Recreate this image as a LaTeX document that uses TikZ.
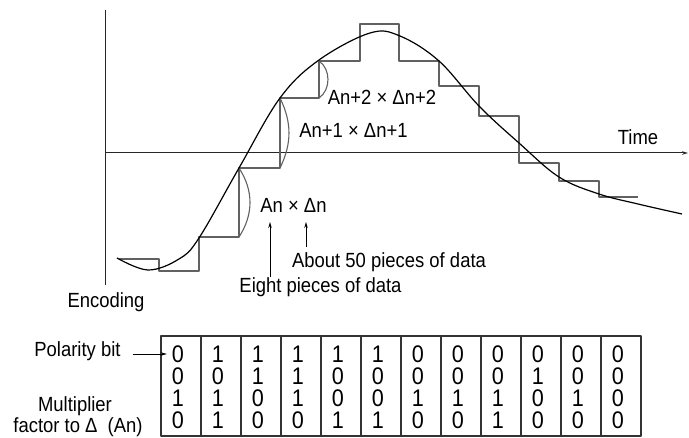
\documentclass[tikz,border=0pt]{standalone}
\usepackage{fontspec}
\setmainfont[FakeStretch=0.9]{Liberation Sans}
\usetikzlibrary{arrows.meta}

\begin{document}
\begin{tikzpicture}[x=1pt,y=-1pt,>={Stealth[length=6pt,width=3.5pt]},line join=round,
  lbl/.style={anchor=base,inner sep=0pt,font=\fontsize{20.5}{24}\selectfont},
  bit/.style={inner sep=0pt,font=\fontsize{24}{26}\selectfont},
  axis/.style={line width=1pt,black!85},
  stair/.style={line width=1.1pt,black!62},
  wave/.style={line width=1.2pt,black},
  grid/.style={line width=1.1pt,black!80}]
  \useasboundingbox (0,0) rectangle (689,438);
  % axes
  \coordinate (Top) at (105,10);
  \coordinate (Bot) at (105,285);
  \coordinate (O) at (105,153);
  \coordinate (T) at (688,153);
  \draw[axis] (Top) -- (Bot);
  \draw[axis,->] (O) -- (T);
  \node[lbl] (time) at (638,145) {Time};
  % step corners carrying the brackets
  \coordinate (S1) at (239,168);
  \coordinate (S1b) at (239,237);
  \coordinate (S2) at (280,98);
  \coordinate (S2b) at (280,168);
  \coordinate (S3) at (319,61);
  \coordinate (S3b) at (319,98);
  % staircase
  \draw[stair] (119,259) -- (159,259) -- (159,271) -- (199,271) -- (199,237)
    -- (S1b) -- (S1) -- (S2b) -- (S2) -- (S3b) -- (S3) -- (360,61) -- (360,24)
    -- (399,24) -- (399,61) -- (439,61) -- (439,86) -- (479,86) -- (479,116)
    -- (519,116) -- (519,163) -- (559,163) -- (559,181) -- (599,181)
    -- (599,197) -- (638,197);
  \draw[stair] (S1) to[bend left=33] (S1b);
  \draw[stair] (S2) to[bend left=26] (S2b);
  \draw[stair] (S3) to[bend left=56] (S3b);
  % signal
  \draw[wave] plot[smooth,tension=0.6] coordinates {(117,258) (148,270) (179,259)
    (199,238) (239,168) (280,98) (319,60) (370,33) (400,36) (439,61) (479,106)
    (519,143) (559,177) (599,194) (638,204) (682,214)};
  % labels
  \node[lbl] (a2) at (382,105) {An+2 × Δn+2};
  \node[lbl] (a1) at (353.5,138) {An+1 × Δn+1};
  \node[lbl] (a0) at (293.5,213) {An × Δn};
  \node[lbl] (fifty) at (389,268) {About 50 pieces of data};
  \node[lbl] (eight) at (320.5,293) {Eight pieces of data};
  \node[lbl] (enc) at (106,308) {Encoding};
  \coordinate (Atip) at (270,222);
  \coordinate (Dtip) at (306,222);
  \draw[->,line width=0.8pt] (Atip |- 0,277) -- (Atip);
  \draw[->,line width=0.8pt] (Dtip |- 0,247) -- (Dtip);
  % code table
  \draw[grid] (161,336) rectangle (641,436);
  \foreach \i in {1,...,11}
    \draw[grid] (161+40*\i,336) -- (161+40*\i,436);
  \foreach \col [count=\c from 0] in {{0,0,1,0},{1,0,1,1},{1,1,0,0},{1,1,1,0},
      {1,0,0,1},{1,0,0,1},{0,0,1,0},{0,0,1,0},{0,0,1,1},{0,1,0,0},{0,0,1,0},{0,0,0,0}}
    \foreach \b [count=\r from 0] in \col
      \node[bit] (d-\c-\r) at (178+40*\c,354+22.2*\r) {\b};
  \node[lbl] (pol) at (77.5,357) {Polarity bit};
  \draw[->,line width=0.8pt] ([xshift=12pt]pol.east |- d-0-0.west) -- ([xshift=-5pt]d-0-0.west);
  \node[lbl] (mult) at (75,412) {Multiplier};
  \node[lbl] (fac) at (78,433) {factor to Δ\ \ (An)};
\end{tikzpicture}
\end{document}
